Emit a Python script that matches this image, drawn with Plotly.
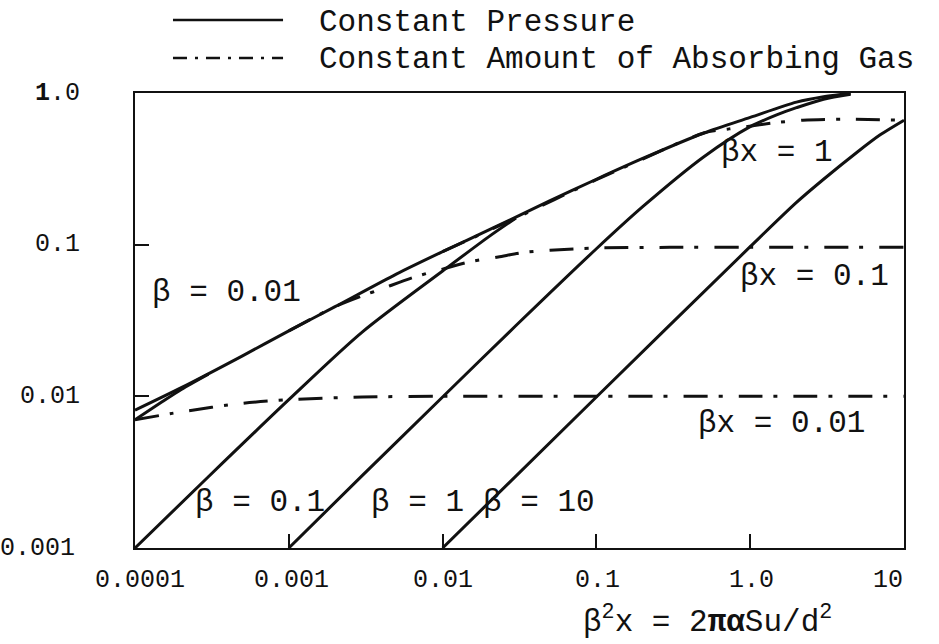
import math
import plotly.graph_objects as go

# Absorptance A versus beta^2 x for an Elsasser-type band.
# Solid curves: constant pressure (fixed beta); dash-dot curves: constant amount (fixed beta*x).

# strong-line envelope (labelled with beta = 0.01)
env_x = [1e-4, 2e-4, 5e-4, 1e-3, 2e-3, 5e-3, 0.01, 0.02, 0.05, 0.1, 0.2, 0.5, 1.0, 2.0, 3.0, 4.5]
env_y = [0.0081, 0.0114, 0.0185, 0.027, 0.039, 0.064, 0.090, 0.125, 0.195, 0.27, 0.37, 0.545, 0.69, 0.87, 0.945, 0.995]

# beta = 0.01
b001_x = [1e-4, 1.5e-4, 2e-4, 3e-4]
b001_y = [0.0070, 0.0092, 0.0111, 0.0140]

# beta = 0.1
b01_x = [1e-4, 3e-4, 1e-3, 3e-3, 0.01, 0.02, 0.03]
b01_y = [0.001, 0.00295, 0.0095, 0.0265, 0.067, 0.113, 0.150]

# beta = 1
b1_x = [1e-3, 3e-3, 0.01, 0.03, 0.1, 0.2, 0.5, 1.0, 1.5, 2.0, 3.0, 4.5]
b1_y = [0.001, 0.003, 0.0099, 0.0293, 0.094, 0.178, 0.38, 0.60, 0.72, 0.80, 0.91, 0.98]

# beta = 10
b10_x = [0.01, 0.1, 1.0, 2.0, 3.0, 5.0, 7.0, 10.0]
b10_y = [0.001, 0.0099, 0.097, 0.19, 0.27, 0.41, 0.53, 0.662]

# beta*x = 0.01
bx001_x = [1e-4, 2e-4, 5e-4, 1e-3, 3e-3, 0.01, 0.1, 1.0, 10.0]
bx001_y = [0.0070, 0.0079, 0.0090, 0.0095, 0.0099, 0.0100, 0.0100, 0.0100, 0.0100]

# beta*x = 0.1
bx01_x = [1e-3, 2e-3, 3e-3, 4e-3, 6.5e-3, 0.01, 0.015, 0.023, 0.034, 0.05, 0.1, 0.3, 1.0, 10.0]
bx01_y = [0.027, 0.039, 0.046, 0.051, 0.061, 0.069, 0.077, 0.083, 0.089, 0.092, 0.095, 0.096, 0.096, 0.096]

# beta*x = 1
bx1_x = [0.01, 0.03, 0.1, 0.2, 0.5, 0.73, 0.94, 1.4, 2.2, 4.0, 10.0]
bx1_y = [0.090, 0.15, 0.268, 0.367, 0.545, 0.58, 0.60, 0.634, 0.662, 0.672, 0.662]

x_tick_vals = [1e-4, 1e-3, 1e-2, 1e-1, 1.0, 10.0]
x_tick_text = ["0.0001", "0.001", "0.01", "0.1", "1.0", "10"]
y_tick_vals = [1e-3, 1e-2, 1e-1, 1.0]
y_tick_text = ["0.001", "0.01", "0.1", "<b>1</b>.0"]

# per-label nudges (pixels) for the hand-set tick labels
x_label_shift = [5, 3, 0, 1, 1, -16]
y_label_shift = [-58, -53, -53, -53]

FONT = "Liberation Mono, Courier New, monospace"
INK = "#111111"
LW = 3.0
DASHDOT = "24px,11px,4px,16px"

fig = go.Figure()

solid = [(env_x, env_y), (b001_x, b001_y), (b01_x, b01_y), (b1_x, b1_y), (b10_x, b10_y)]
dashed = [(bx001_x, bx001_y), (bx01_x, bx01_y), (bx1_x, bx1_y)]

for xs, ys in solid:
    fig.add_trace(go.Scatter(x=xs, y=ys, mode="lines",
                             line=dict(color=INK, width=LW, shape="spline", smoothing=0.8),
                             showlegend=False, hoverinfo="skip"))
for xs, ys in dashed:
    fig.add_trace(go.Scatter(x=xs, y=ys, mode="lines",
                             line=dict(color=INK, width=LW, dash=DASHDOT, shape="spline", smoothing=0.8),
                             showlegend=False, hoverinfo="skip"))

# curve labels (positions in log10 data units)
curve_labels = [
    ("β = 0.01", -3.90, -1.318),
    ("β = 0.1", -3.62, -2.70),
    ("β = 1", -2.48, -2.70),
    ("β = 10", -1.75, -2.70),
    ("βx = 1", -0.20, -0.393),
    ("βx = 0.1", -0.08, -1.213),
    ("βx = 0.01", -0.35, -2.176),
]
for text, lx, ly in curve_labels:
    fig.add_annotation(x=lx, y=ly, xref="x", yref="y", text=text, showarrow=False,
                       xanchor="left", yanchor="middle",
                       font=dict(family=FONT, size=31, color=INK))

# tick labels set by hand
for v, t, dx in zip(x_tick_vals, x_tick_text, x_label_shift):
    fig.add_annotation(x=math.log10(v), y=0, xref="x", yref="paper", text=t,
                       showarrow=False, xanchor="center", yanchor="top", yshift=-16, xshift=dx,
                       font=dict(family=FONT, size=25, color=INK))
for v, t, dx in zip(y_tick_vals, y_tick_text, y_label_shift):
    fig.add_annotation(x=0, y=math.log10(v), xref="paper", yref="y", text=t,
                       showarrow=False, xanchor="right", yanchor="middle", xshift=dx,
                       font=dict(family=FONT, size=25, color=INK))

# legend drawn by hand above the frame
fig.add_shape(type="line", xref="paper", yref="paper", x0=0.0494, x1=0.1925, y0=1.1604, y1=1.1604,
              line=dict(color=INK, width=2.4))
fig.add_shape(type="line", xref="paper", yref="paper", x0=0.0494, x1=0.1925, y0=1.0769, y1=1.0769,
              line=dict(color=INK, width=2.4, dash="14px,8px,3px,8px"))
fig.add_annotation(x=0.2367, y=1.156, xref="paper", yref="paper", text="Constant Pressure",
                   showarrow=False, xanchor="left", yanchor="middle",
                   font=dict(family=FONT, size=31, color=INK))
fig.add_annotation(x=0.2367, y=1.074, xref="paper", yref="paper", text="Constant Amount of Absorbing Gas",
                   showarrow=False, xanchor="left", yanchor="middle",
                   font=dict(family=FONT, size=31, color=INK))

# x-axis title
fig.add_annotation(x=0.744, y=-0.158, xref="paper", yref="paper",
                   text="β<sup>2</sup>x = 2<b>πα</b>Su/d<sup>2</sup>",
                   showarrow=False, xanchor="center", yanchor="middle",
                   font=dict(family=FONT, size=31, color=INK))

fig.update_xaxes(type="log", range=[-4, 1], showgrid=False, zeroline=False,
                 showline=True, linecolor=INK, linewidth=2, mirror=True,
                 ticks="inside", ticklen=14, tickwidth=1.5, tickcolor=INK,
                 tickvals=x_tick_vals, showticklabels=False)
fig.update_yaxes(type="log", range=[-3, 0], showgrid=False, zeroline=False,
                 showline=True, linecolor=INK, linewidth=2, mirror=True,
                 ticks="inside", ticklen=14, tickwidth=1.5, tickcolor=INK,
                 tickvals=y_tick_vals, showticklabels=False)

fig.update_layout(width=939, height=644, autosize=False,
                  margin=dict(l=135, r=35, t=93, b=96),
                  paper_bgcolor="white", plot_bgcolor="white",
                  showlegend=False)

fig.write_html("out.html")
